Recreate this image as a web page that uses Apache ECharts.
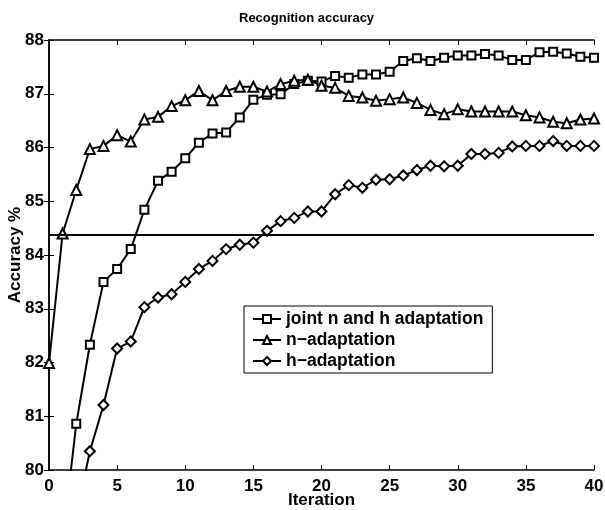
<!DOCTYPE html>
<html>
<head>
<meta charset="utf-8">
<script src="https://cdn.jsdelivr.net/npm/echarts@6/dist/echarts.min.js"></script>
<style>
  html, body { margin: 0; padding: 0; background: #fff; }
  #chart { width: 605px; height: 510px; }
</style>
</head>
<body>
<div id="chart"></div>
<script>
// iterations 0..40
var iterations = [0, 1, 2, 3, 4, 5, 6, 7, 8, 9, 10, 11, 12, 13, 14, 15, 16, 17, 18, 19, 20,
    21, 22, 23, 24, 25, 26, 27, 28, 29, 30, 31, 32, 33, 34, 35, 36, 37, 38, 39, 40];

// joint n and h adaptation (first two points fall below the axis)
var jointValues = [77.0, 78.66, 80.86, 82.33, 83.50, 83.74, 84.11, 84.84, 85.38, 85.55, 85.80,
    86.09, 86.26, 86.28, 86.56, 86.89, 86.98, 86.99, 87.18, 87.24, 87.23,
    87.33, 87.30, 87.36, 87.36, 87.41, 87.61, 87.66, 87.61, 87.67, 87.71,
    87.71, 87.74, 87.71, 87.63, 87.63, 87.77, 87.78, 87.75, 87.69, 87.67];

// n-adaptation
var nValues = [81.99, 84.40, 85.21, 85.97, 86.03, 86.23, 86.11, 86.52, 86.57, 86.77, 86.88,
    87.05, 86.88, 87.05, 87.13, 87.13, 87.04, 87.18, 87.24, 87.26, 87.15,
    87.11, 86.96, 86.93, 86.87, 86.90, 86.93, 86.83, 86.70, 86.62, 86.71,
    86.67, 86.67, 86.67, 86.67, 86.60, 86.56, 86.48, 86.45, 86.52, 86.54];

// h-adaptation (first three points fall below the axis)
var hValues = [76.5, 77.8, 79.14, 80.35, 81.21, 82.26, 82.39, 83.03, 83.21, 83.27, 83.50,
    83.74, 83.89, 84.11, 84.19, 84.23, 84.45, 84.63, 84.69, 84.81, 84.81,
    85.13, 85.30, 85.25, 85.40, 85.41, 85.48, 85.58, 85.66, 85.65, 85.66,
    85.88, 85.88, 85.90, 86.02, 86.03, 86.03, 86.12, 86.03, 86.03, 86.03];

var baseline = 84.37;
var seriesNames = ['joint n and h adaptation', 'n\u2212adaptation', 'h\u2212adaptation'];

var xTicks = [0, 5, 10, 15, 20, 25, 30, 35, 40];
var yTicks = [80, 81, 82, 83, 84, 85, 86, 87, 88];

function pairs(values) {
    return iterations.map(function (it, i) {
        return [it, values[i]];
    });
}

var FONT = '"Liberation Sans", Arial, sans-serif';

var chart = echarts.init(document.getElementById('chart'));

function makeSeries(name, values, symbol, size) {
    return {
        name: name,
        type: 'line',
        data: pairs(values),
        symbol: symbol,
        symbolSize: size,
        showAllSymbol: true,
        clip: true,
        lineStyle: { color: '#000', width: 2 },
        itemStyle: { color: '#fff', borderColor: '#000', borderWidth: 2 },
        emphasis: { disabled: true },
        animation: false
    };
}

var tickStyle = { show: true, inside: true, length: 5, lineStyle: { color: '#000', width: 1 } };
var lineStyle = { show: true, lineStyle: { color: '#000', width: 1.5 } };
var labelStyle = { color: '#000', fontSize: 17, fontWeight: 'bold', fontFamily: FONT };

var series = [
    makeSeries(seriesNames[0], jointValues, 'rect', 8),
    makeSeries(seriesNames[1], nValues, 'triangle', 10),
    makeSeries(seriesNames[2], hValues, 'diamond', 10)
];
series[0].markLine = {
    silent: true,
    symbol: 'none',
    label: { show: false },
    lineStyle: { color: '#000', width: 2, type: 'solid' },
    data: [{ yAxis: baseline }],
    animation: false
};

chart.setOption({
    backgroundColor: '#fff',
    animation: false,
    title: {
        text: 'Recognition accuracy',
        left: 234,
        top: 7,
        textStyle: { color: '#000', fontSize: 13, fontWeight: 'bold', fontFamily: FONT }
    },
    grid: { left: 49, right: 11, top: 40, bottom: 40, containLabel: false, outerBoundsMode: 'none' },
    legend: {
        orient: 'vertical',
        left: 244,
        top: 306,
        itemWidth: 28,
        itemHeight: 10,
        itemGap: 3,
        padding: [4, 9, 3, 8],
        borderColor: '#000',
        borderWidth: 1,
        backgroundColor: '#fff',
        textStyle: { color: '#000', fontSize: 17.5, fontWeight: 'bold', fontFamily: FONT },
        data: seriesNames
    },
    xAxis: [{
        type: 'value',
        min: xTicks[0],
        max: xTicks[xTicks.length - 1],
        interval: 5,
        name: 'Iteration',
        nameLocation: 'middle',
        nameGap: 22,
        nameMoveOverlap: false,
        nameTextStyle: labelStyle,
        axisLine: lineStyle,
        axisTick: tickStyle,
        axisLabel: Object.assign({ margin: 8 }, labelStyle),
        splitLine: { show: false }
    }, {
        type: 'value',
        position: 'top',
        min: xTicks[0],
        max: xTicks[xTicks.length - 1],
        interval: 5,
        axisLine: lineStyle,
        axisTick: tickStyle,
        axisLabel: { show: false },
        splitLine: { show: false }
    }],
    yAxis: [{
        type: 'value',
        min: yTicks[0],
        max: yTicks[yTicks.length - 1],
        interval: 1,
        name: 'Accuracy %',
        nameLocation: 'middle',
        nameGap: 25,
        nameMoveOverlap: false,
        nameTextStyle: labelStyle,
        axisLine: lineStyle,
        axisTick: tickStyle,
        axisLabel: Object.assign({ margin: 5 }, labelStyle),
        splitLine: { show: false }
    }, {
        type: 'value',
        position: 'right',
        min: yTicks[0],
        max: yTicks[yTicks.length - 1],
        interval: 1,
        axisLine: lineStyle,
        axisTick: tickStyle,
        axisLabel: { show: false },
        splitLine: { show: false }
    }],
    series: series
});
</script>
</body>
</html>
